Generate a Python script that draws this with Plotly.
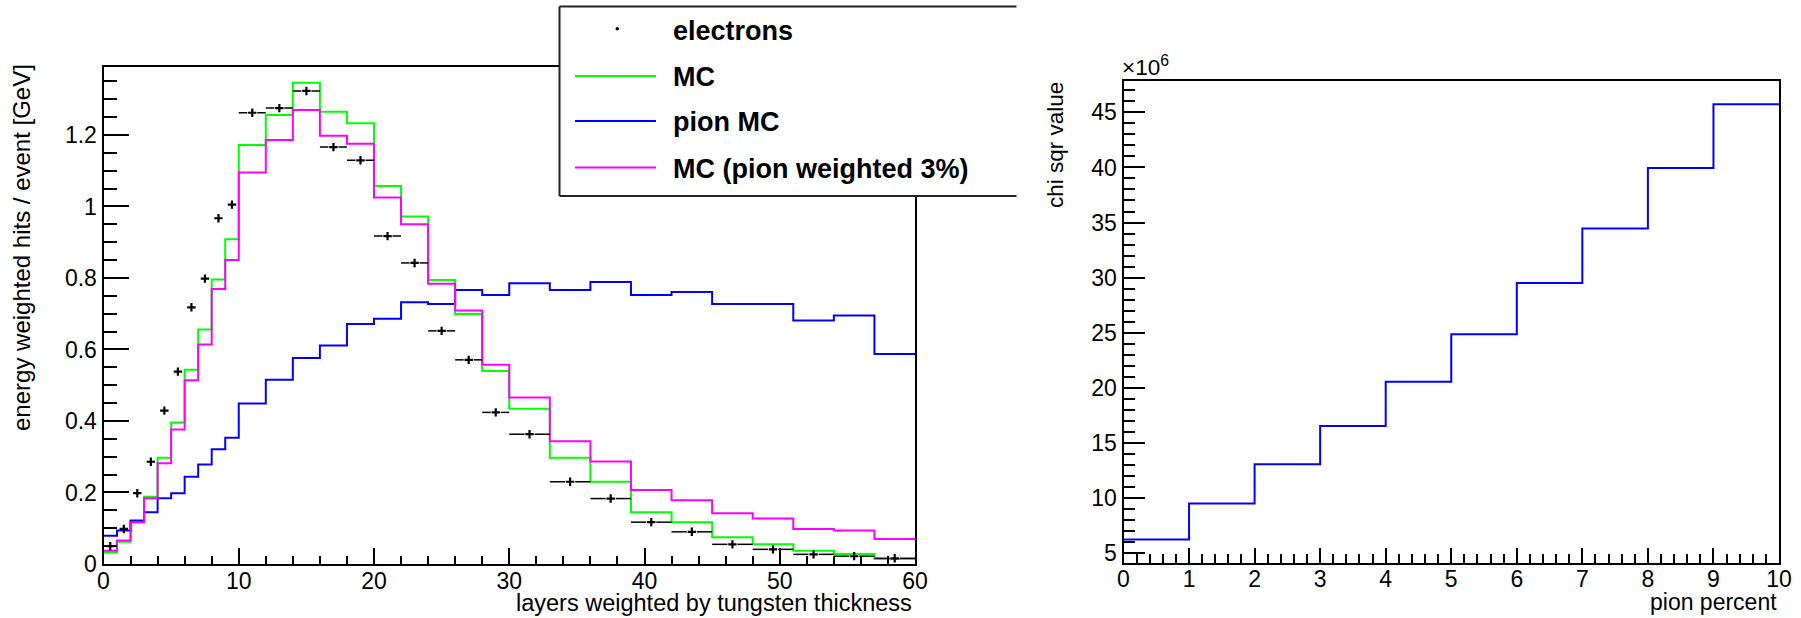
import plotly.graph_objects as go

W, H = 1801, 618

# ---------------- data (left: energy profile) ----------------
layer_edges = [0, 1, 2, 3, 4, 5, 6, 7, 8, 9, 10, 12, 14, 16, 18, 20, 22, 24, 26, 28,
               30, 33, 36, 39, 42, 45, 48, 51, 54, 57, 60]
electrons = [0.050, 0.098, 0.198, 0.286, 0.429, 0.538, 0.718, 0.798, 0.967, 1.005,
             1.262, 1.275, 1.323, 1.166, 1.129, 0.917, 0.842, 0.652, 0.571, 0.424,
             0.363, 0.230, 0.183, 0.117, 0.090, 0.055, 0.041, 0.027, 0.022, 0.016]
mc = [0.032, 0.062, 0.118, 0.188, 0.297, 0.396, 0.543, 0.656, 0.796, 0.908,
      1.172, 1.256, 1.346, 1.265, 1.233, 1.057, 0.972, 0.794, 0.699, 0.540,
      0.434, 0.297, 0.230, 0.145, 0.117, 0.075, 0.055, 0.037, 0.028, 0.014]
pion_mc = [0.079, 0.094, 0.122, 0.145, 0.184, 0.198, 0.244, 0.278, 0.321, 0.353,
           0.449, 0.515, 0.576, 0.611, 0.671, 0.686, 0.732, 0.727, 0.766, 0.752,
           0.785, 0.766, 0.789, 0.752, 0.761, 0.727, 0.727, 0.681, 0.695, 0.587]
mc_pion3 = [0.037, 0.066, 0.117, 0.184, 0.282, 0.376, 0.514, 0.614, 0.769, 0.850,
            1.095, 1.186, 1.270, 1.198, 1.175, 1.025, 0.950, 0.784, 0.709, 0.557,
            0.466, 0.343, 0.287, 0.207, 0.178, 0.142, 0.127, 0.098, 0.094, 0.070]

# ---------------- data (right: chi square scan) ----------------
pion_percent_edges = [0, 1, 2, 3, 4, 5, 6, 7, 8, 9, 10]
chi_sqr = [6.22e6, 9.49e6, 13.06e6, 16.52e6, 20.55e6, 24.85e6, 29.50e6, 34.45e6,
           39.95e6, 45.75e6]

# ---------------- tick labels ----------------
left_x_ticks = [0, 10, 20, 30, 40, 50, 60]
left_y_ticks = [0, 0.2, 0.4, 0.6, 0.8, 1.0, 1.2]
right_x_ticks = [0, 1, 2, 3, 4, 5, 6, 7, 8, 9, 10]
right_y_ticks = [5e6, 10e6, 15e6, 20e6, 25e6, 30e6, 35e6, 40e6, 45e6]
right_y_ticktext = ["5", "10", "15", "20", "25", "30", "35", "40", "45"]

legend_labels = ["electrons", "MC", "pion MC", "MC (pion weighted 3%)"]

FONT = "Liberation Sans, Arial, Helvetica, sans-serif"
GREEN, BLUE, MAGENTA = "#00ff00", "#0000ff", "#ff00ff"


def px(x):
    return x / W


def py(y):
    return 1 - y / H


def step(edges, vals):
    return list(edges), list(vals) + [vals[-1]]


# layout geometry (pixels)
L_X0, L_X1, L_Y0, L_Y1 = 103.5, 915.0, 67.0, 564.0
R_X0, R_X1, R_Y0, R_Y1 = 1123.5, 1779.0, 81.0, 562.5
L_XRANGE = [0, 60]
L_YRANGE = [0, 1.39]
R_XRANGE = [0, 10]
R_YRANGE = [4.13e6, 47.85e6]

fig = go.Figure()

# MC histograms (left)
for vals, col in [(mc, GREEN), (pion_mc, BLUE), (mc_pion3, MAGENTA)]:
    xs, ys = step(layer_edges, vals)
    fig.add_trace(go.Scatter(x=xs, y=ys, mode="lines", line=dict(color=col, width=2, shape="hv"),
                             xaxis="x", yaxis="y", showlegend=False, hoverinfo="skip"))

# electron horizontal error bars with a gap around the marker
units_per_px = (L_XRANGE[1] - L_XRANGE[0]) / (L_X1 - L_X0)
gap = 5.0 * units_per_px
ex, ey = [], []
centers = []
for a, b, v in zip(layer_edges[:-1], layer_edges[1:], electrons):
    c = 0.5 * (a + b)
    centers.append(c)
    if (b - a) / 2 - gap > 0.25:
        ex += [a, c - gap, None, c + gap, b, None]
        ey += [v, v, None, v, v, None]
fig.add_trace(go.Scatter(x=ex, y=ey, mode="lines", line=dict(color="black", width=1.5),
                         xaxis="x", yaxis="y", showlegend=False, hoverinfo="skip"))
fig.add_trace(go.Scatter(x=centers, y=electrons, mode="markers",
                         marker=dict(symbol="cross-thin", size=6, line=dict(color="black", width=2.2)),
                         xaxis="x", yaxis="y", showlegend=False))

# chi square scan (right)
xs, ys = step(pion_percent_edges, chi_sqr)
fig.add_trace(go.Scatter(x=xs, y=ys, mode="lines", line=dict(color=BLUE, width=2, shape="hv"),
                         xaxis="x2", yaxis="y2", showlegend=False))

axis_common = dict(showline=True, mirror=True, linecolor="black", linewidth=2,
                   ticks="inside", tickcolor="black", tickwidth=1.5,
                   showgrid=False, zeroline=False, automargin=False,
                   tickfont=dict(family=FONT, size=23, color="black"))

fig.update_layout(
    width=W, height=H, autosize=False,
    margin=dict(l=0, r=0, t=0, b=0, pad=0, autoexpand=False),
    paper_bgcolor="white", plot_bgcolor="white",
    showlegend=False,
    xaxis=dict(domain=[px(L_X0), px(L_X1)], range=L_XRANGE, anchor="y",
               tickmode="array", tickvals=left_x_ticks, ticklen=16, ticklabelstandoff=-5,
               minor=dict(ticks="inside", tickmode="linear", tick0=0, dtick=2, ticklen=8,
                          tickcolor="black", tickwidth=1.5, showgrid=False),
               **axis_common),
    yaxis=dict(domain=[py(L_Y1), py(L_Y0)], range=L_YRANGE, anchor="x",
               tickmode="array", tickvals=left_y_ticks, ticklen=25,
               minor=dict(ticks="inside", tickmode="linear", tick0=0, dtick=0.05, ticklen=13,
                          tickcolor="black", tickwidth=1.5, showgrid=False),
               **axis_common),
    xaxis2=dict(domain=[px(R_X0), px(R_X1)], range=R_XRANGE, anchor="y2",
                tickmode="array", tickvals=right_x_ticks, ticklen=15, ticklabelstandoff=-5,
                minor=dict(ticks="inside", tickmode="linear", tick0=0, dtick=0.2, ticklen=9,
                           tickcolor="black", tickwidth=1.5, showgrid=False),
                **axis_common),
    yaxis2=dict(domain=[py(R_Y1), py(R_Y0)], range=R_YRANGE, anchor="x2",
                tickmode="array", tickvals=right_y_ticks, ticktext=right_y_ticktext, ticklen=21,
                minor=dict(ticks="inside", tickmode="linear", tick0=0, dtick=1e6, ticklen=11,
                           tickcolor="black", tickwidth=1.5, showgrid=False),
                **axis_common),
)

title_font = dict(family=FONT, size=23.5, color="black")
ann = [
    dict(text="energy weighted hits / event [GeV]", x=px(21), y=py(248), textangle=-90,
         xanchor="center", yanchor="middle", font=dict(family=FONT, size=24, color="black")),
    dict(text="layers weighted by tungsten thickness", x=px(914), y=py(603),
         xanchor="right", yanchor="middle", font=title_font),
    dict(text="chi sqr value", x=px(1055), y=py(145), textangle=-90,
         xanchor="center", yanchor="middle", font=dict(family=FONT, size=22.5, color="black")),
    dict(text="pion percent", x=px(1779), y=py(602),
         xanchor="right", yanchor="middle", font=dict(family=FONT, size=23, color="black")),
    dict(text="×10<sup>6</sup>", x=px(1120), y=py(82),
         xanchor="left", yanchor="bottom", font=dict(family=FONT, size=22.5, color="black")),
]

# legend (ROOT style box, clipped at right by the pad edge)
LG_X0, LG_X1, LG_Y0, LG_Y1 = 559.5, 1016.5, 6.5, 196.0
shapes = [
    dict(type="rect", xref="paper", yref="paper", x0=px(LG_X0), x1=px(LG_X1), y0=py(LG_Y1), y1=py(LG_Y0),
         fillcolor="white", line=dict(width=0), layer="above"),
    dict(type="line", xref="paper", yref="paper", x0=px(LG_X0), x1=px(LG_X1), y0=py(LG_Y0), y1=py(LG_Y0),
         line=dict(color="#222", width=2), layer="above"),
    dict(type="line", xref="paper", yref="paper", x0=px(LG_X0), x1=px(LG_X1), y0=py(LG_Y1), y1=py(LG_Y1),
         line=dict(color="#222", width=2), layer="above"),
    dict(type="line", xref="paper", yref="paper", x0=px(LG_X0), x1=px(LG_X0), y0=py(LG_Y0), y1=py(LG_Y1),
         line=dict(color="#222", width=2), layer="above"),
]
entry_y = [31, 77, 122, 168.5]
entry_style = [None, GREEN, BLUE, MAGENTA]
for lab, yy, col in zip(legend_labels, entry_y, entry_style):
    if col is None:
        shapes.append(dict(type="circle", xref="paper", yref="paper",
                           x0=px(615.5), x1=px(619), y0=py(yy - 0.5), y1=py(yy - 4),
                           fillcolor="black", line=dict(width=0), layer="above"))
    else:
        shapes.append(dict(type="line", xref="paper", yref="paper", x0=px(575), x1=px(656),
                           y0=py(yy - 1), y1=py(yy - 1), line=dict(color=col, width=2), layer="above"))
    ann.append(dict(text=lab, x=px(671), y=py(yy), xanchor="left", yanchor="middle",
                    font=dict(family=FONT, size=27, color="black", weight="bold")))

for a in ann:
    a.setdefault("xref", "paper")
    a.setdefault("yref", "paper")
    a.setdefault("showarrow", False)

fig.update_layout(annotations=ann, shapes=shapes)

fig.write_html("out.html", config={"displayModeBar": False},
               post_script="document.body.style.margin='0';document.body.style.overflow='hidden';")
